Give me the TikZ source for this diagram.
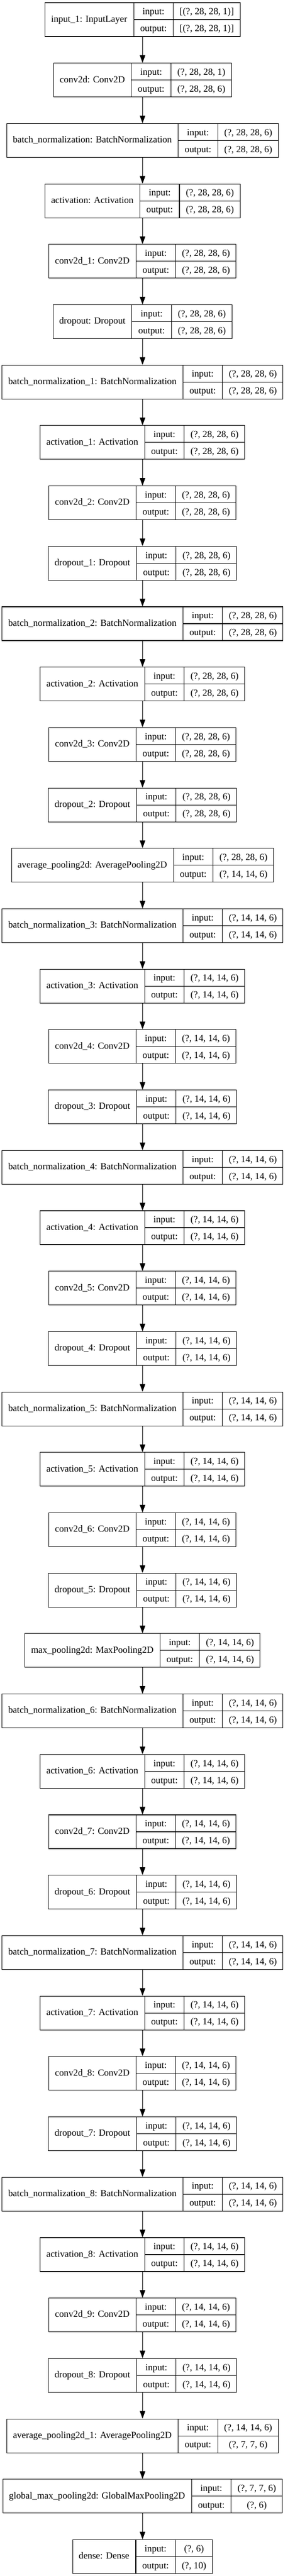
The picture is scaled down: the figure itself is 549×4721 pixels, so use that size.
\documentclass[tikz,border=0pt]{standalone}
\usepackage{fontspec}
\setmainfont{Liberation Serif}
\usetikzlibrary{shapes.multipart,arrows.meta,positioning}
\setlength{\tabcolsep}{0pt}
\newcommand{\iokeys}{\begin{tabular}{c}input:\\output:\end{tabular}}
\newcommand{\inout}[2]{\begin{tabular}{c}#1\\\relax#2\end{tabular}}
\tikzstyle{every node}+=[node distance=47.6pt]
\tikzstyle{layer}=[draw, rectangle split, rectangle split horizontal, rectangle split parts=3,
  rectangle split part align={base}, inner xsep=11.3pt, inner ysep=0pt,
  font=\fontsize{17.2}{31}\selectfont,
  append after command={(\tikzlastnode.text split) edge (\tikzlastnode.east)}]
\tikzstyle{flow}=[-{Triangle[length=14pt,width=10pt]}]

\begin{document}
\begin{tikzpicture}[x=1pt, y=1pt, line width=1.1pt]
\useasboundingbox (0,0) rectangle (549,-4721);

\node[layer, anchor=north] (in) at (261.3,-4.45) {input\_1: InputLayer\nodepart{two}\iokeys\nodepart{three}\inout{[(?, 28, 28, 1)]}{[(?, 28, 28, 1)]}};
\node[layer, below=of in] (cv0) {conv2d: Conv2D\nodepart{two}\iokeys\nodepart{three}\inout{(?, 28, 28, 1)}{(?, 28, 28, 6)}};
\node[layer, below=of cv0] (bn0) {batch\_normalization: BatchNormalization\nodepart{two}\iokeys\nodepart{three}\inout{(?, 28, 28, 6)}{(?, 28, 28, 6)}};
\node[layer, below=of bn0] (ac0) {activation: Activation\nodepart{two}\iokeys\nodepart{three}\inout{(?, 28, 28, 6)}{(?, 28, 28, 6)}};
\node[layer, below=of ac0] (cv1) {conv2d\_1: Conv2D\nodepart{two}\iokeys\nodepart{three}\inout{(?, 28, 28, 6)}{(?, 28, 28, 6)}};
\node[layer, below=of cv1] (dp0) {dropout: Dropout\nodepart{two}\iokeys\nodepart{three}\inout{(?, 28, 28, 6)}{(?, 28, 28, 6)}};
\node[layer, below=of dp0] (bn1) {batch\_normalization\_1: BatchNormalization\nodepart{two}\iokeys\nodepart{three}\inout{(?, 28, 28, 6)}{(?, 28, 28, 6)}};
\node[layer, below=of bn1] (ac1) {activation\_1: Activation\nodepart{two}\iokeys\nodepart{three}\inout{(?, 28, 28, 6)}{(?, 28, 28, 6)}};
\node[layer, below=of ac1] (cv2) {conv2d\_2: Conv2D\nodepart{two}\iokeys\nodepart{three}\inout{(?, 28, 28, 6)}{(?, 28, 28, 6)}};
\node[layer, below=of cv2] (dp1) {dropout\_1: Dropout\nodepart{two}\iokeys\nodepart{three}\inout{(?, 28, 28, 6)}{(?, 28, 28, 6)}};
\node[layer, below=of dp1] (bn2) {batch\_normalization\_2: BatchNormalization\nodepart{two}\iokeys\nodepart{three}\inout{(?, 28, 28, 6)}{(?, 28, 28, 6)}};
\node[layer, below=of bn2] (ac2) {activation\_2: Activation\nodepart{two}\iokeys\nodepart{three}\inout{(?, 28, 28, 6)}{(?, 28, 28, 6)}};
\node[layer, below=of ac2] (cv3) {conv2d\_3: Conv2D\nodepart{two}\iokeys\nodepart{three}\inout{(?, 28, 28, 6)}{(?, 28, 28, 6)}};
\node[layer, below=of cv3] (dp2) {dropout\_2: Dropout\nodepart{two}\iokeys\nodepart{three}\inout{(?, 28, 28, 6)}{(?, 28, 28, 6)}};
\node[layer, below=of dp2] (ap0) {average\_pooling2d: AveragePooling2D\nodepart{two}\iokeys\nodepart{three}\inout{(?, 28, 28, 6)}{(?, 14, 14, 6)}};
\node[layer, below=of ap0] (bn3) {batch\_normalization\_3: BatchNormalization\nodepart{two}\iokeys\nodepart{three}\inout{(?, 14, 14, 6)}{(?, 14, 14, 6)}};
\node[layer, below=of bn3] (ac3) {activation\_3: Activation\nodepart{two}\iokeys\nodepart{three}\inout{(?, 14, 14, 6)}{(?, 14, 14, 6)}};
\node[layer, below=of ac3] (cv4) {conv2d\_4: Conv2D\nodepart{two}\iokeys\nodepart{three}\inout{(?, 14, 14, 6)}{(?, 14, 14, 6)}};
\node[layer, below=of cv4] (dp3) {dropout\_3: Dropout\nodepart{two}\iokeys\nodepart{three}\inout{(?, 14, 14, 6)}{(?, 14, 14, 6)}};
\node[layer, below=of dp3] (bn4) {batch\_normalization\_4: BatchNormalization\nodepart{two}\iokeys\nodepart{three}\inout{(?, 14, 14, 6)}{(?, 14, 14, 6)}};
\node[layer, below=of bn4] (ac4) {activation\_4: Activation\nodepart{two}\iokeys\nodepart{three}\inout{(?, 14, 14, 6)}{(?, 14, 14, 6)}};
\node[layer, below=of ac4] (cv5) {conv2d\_5: Conv2D\nodepart{two}\iokeys\nodepart{three}\inout{(?, 14, 14, 6)}{(?, 14, 14, 6)}};
\node[layer, below=of cv5] (dp4) {dropout\_4: Dropout\nodepart{two}\iokeys\nodepart{three}\inout{(?, 14, 14, 6)}{(?, 14, 14, 6)}};
\node[layer, below=of dp4] (bn5) {batch\_normalization\_5: BatchNormalization\nodepart{two}\iokeys\nodepart{three}\inout{(?, 14, 14, 6)}{(?, 14, 14, 6)}};
\node[layer, below=of bn5] (ac5) {activation\_5: Activation\nodepart{two}\iokeys\nodepart{three}\inout{(?, 14, 14, 6)}{(?, 14, 14, 6)}};
\node[layer, below=of ac5] (cv6) {conv2d\_6: Conv2D\nodepart{two}\iokeys\nodepart{three}\inout{(?, 14, 14, 6)}{(?, 14, 14, 6)}};
\node[layer, below=of cv6] (dp5) {dropout\_5: Dropout\nodepart{two}\iokeys\nodepart{three}\inout{(?, 14, 14, 6)}{(?, 14, 14, 6)}};
\node[layer, below=of dp5] (mp0) {max\_pooling2d: MaxPooling2D\nodepart{two}\iokeys\nodepart{three}\inout{(?, 14, 14, 6)}{(?, 14, 14, 6)}};
\node[layer, below=of mp0] (bn6) {batch\_normalization\_6: BatchNormalization\nodepart{two}\iokeys\nodepart{three}\inout{(?, 14, 14, 6)}{(?, 14, 14, 6)}};
\node[layer, below=of bn6] (ac6) {activation\_6: Activation\nodepart{two}\iokeys\nodepart{three}\inout{(?, 14, 14, 6)}{(?, 14, 14, 6)}};
\node[layer, below=of ac6] (cv7) {conv2d\_7: Conv2D\nodepart{two}\iokeys\nodepart{three}\inout{(?, 14, 14, 6)}{(?, 14, 14, 6)}};
\node[layer, below=of cv7] (dp6) {dropout\_6: Dropout\nodepart{two}\iokeys\nodepart{three}\inout{(?, 14, 14, 6)}{(?, 14, 14, 6)}};
\node[layer, below=of dp6] (bn7) {batch\_normalization\_7: BatchNormalization\nodepart{two}\iokeys\nodepart{three}\inout{(?, 14, 14, 6)}{(?, 14, 14, 6)}};
\node[layer, below=of bn7] (ac7) {activation\_7: Activation\nodepart{two}\iokeys\nodepart{three}\inout{(?, 14, 14, 6)}{(?, 14, 14, 6)}};
\node[layer, below=of ac7] (cv8) {conv2d\_8: Conv2D\nodepart{two}\iokeys\nodepart{three}\inout{(?, 14, 14, 6)}{(?, 14, 14, 6)}};
\node[layer, below=of cv8] (dp7) {dropout\_7: Dropout\nodepart{two}\iokeys\nodepart{three}\inout{(?, 14, 14, 6)}{(?, 14, 14, 6)}};
\node[layer, below=of dp7] (bn8) {batch\_normalization\_8: BatchNormalization\nodepart{two}\iokeys\nodepart{three}\inout{(?, 14, 14, 6)}{(?, 14, 14, 6)}};
\node[layer, below=of bn8] (ac8) {activation\_8: Activation\nodepart{two}\iokeys\nodepart{three}\inout{(?, 14, 14, 6)}{(?, 14, 14, 6)}};
\node[layer, below=of ac8] (cv9) {conv2d\_9: Conv2D\nodepart{two}\iokeys\nodepart{three}\inout{(?, 14, 14, 6)}{(?, 14, 14, 6)}};
\node[layer, below=of cv9] (dp8) {dropout\_8: Dropout\nodepart{two}\iokeys\nodepart{three}\inout{(?, 14, 14, 6)}{(?, 14, 14, 6)}};
\node[layer, below=of dp8] (ap1) {average\_pooling2d\_1: AveragePooling2D\nodepart{two}\iokeys\nodepart{three}\inout{(?, 14, 14, 6)}{(?, 7, 7, 6)}};
\node[layer, below=of ap1] (gmp) {global\_max\_pooling2d: GlobalMaxPooling2D\nodepart{two}\iokeys\nodepart{three}\inout{(?, 7, 7, 6)}{(?, 6)}};
\node[layer, below=of gmp] (dense) {dense: Dense\nodepart{two}\iokeys\nodepart{three}\inout{(?, 6)}{(?, 10)}};

\draw[flow] (in) -- (cv0);
\draw[flow] (cv0) -- (bn0);
\draw[flow] (bn0) -- (ac0);
\draw[flow] (ac0) -- (cv1);
\draw[flow] (cv1) -- (dp0);
\draw[flow] (dp0) -- (bn1);
\draw[flow] (bn1) -- (ac1);
\draw[flow] (ac1) -- (cv2);
\draw[flow] (cv2) -- (dp1);
\draw[flow] (dp1) -- (bn2);
\draw[flow] (bn2) -- (ac2);
\draw[flow] (ac2) -- (cv3);
\draw[flow] (cv3) -- (dp2);
\draw[flow] (dp2) -- (ap0);
\draw[flow] (ap0) -- (bn3);
\draw[flow] (bn3) -- (ac3);
\draw[flow] (ac3) -- (cv4);
\draw[flow] (cv4) -- (dp3);
\draw[flow] (dp3) -- (bn4);
\draw[flow] (bn4) -- (ac4);
\draw[flow] (ac4) -- (cv5);
\draw[flow] (cv5) -- (dp4);
\draw[flow] (dp4) -- (bn5);
\draw[flow] (bn5) -- (ac5);
\draw[flow] (ac5) -- (cv6);
\draw[flow] (cv6) -- (dp5);
\draw[flow] (dp5) -- (mp0);
\draw[flow] (mp0) -- (bn6);
\draw[flow] (bn6) -- (ac6);
\draw[flow] (ac6) -- (cv7);
\draw[flow] (cv7) -- (dp6);
\draw[flow] (dp6) -- (bn7);
\draw[flow] (bn7) -- (ac7);
\draw[flow] (ac7) -- (cv8);
\draw[flow] (cv8) -- (dp7);
\draw[flow] (dp7) -- (bn8);
\draw[flow] (bn8) -- (ac8);
\draw[flow] (ac8) -- (cv9);
\draw[flow] (cv9) -- (dp8);
\draw[flow] (dp8) -- (ap1);
\draw[flow] (ap1) -- (gmp);
\draw[flow] (gmp) -- (dense);
\end{tikzpicture}
\end{document}
